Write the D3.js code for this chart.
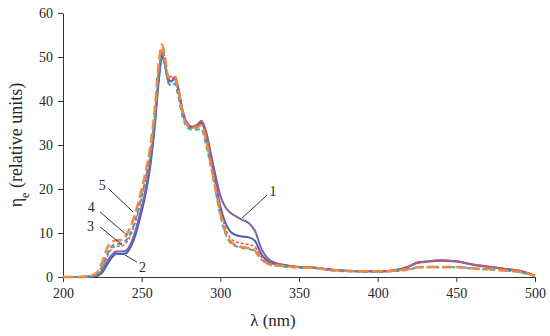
<!DOCTYPE html>
<html>
<head>
<meta charset="utf-8">
<script src="https://cdn.jsdelivr.net/npm/d3@7"></script>
<style>
  body { margin: 0; background: #fff; }
  text { font-family: "Liberation Serif", "DejaVu Serif", serif; fill: #262626; }
</style>
</head>
<body>
<div id="container"></div>
<script>
/* CONSTANTS AND GLOBALS */
const width = 550,
  height = 336,
  margin = { top: 13, bottom: 59, left: 63, right: 15 },
  serif = '"Liberation Serif", "DejaVu Serif", serif';

// wavelengths (nm) shared by all series
const wavelengths = [200, 210, 218, 222, 225, 228, 231, 234, 237, 240, 243, 246, 249, 252, 255, 258, 261, 263, 265, 267, 269, 271, 273, 276, 279, 282, 285, 288, 291, 294, 297, 300, 303, 306, 310, 314, 318, 322, 326, 330, 335, 340, 350, 360, 370, 380, 390, 400, 410, 420, 425, 430, 440, 450, 460, 470, 480, 490, 500];

const series1 = [0, 0, 0.1, 0.5, 1.5, 3.5, 5, 5.8, 5.8, 6, 7.5, 10.5, 14.5, 19, 25, 34, 46, 50.5, 48, 44.5, 44.5, 45.5, 43.5, 38, 35, 34.2, 34.5, 35.5, 33, 28, 23, 18.5, 16, 14.7, 13.8, 13, 12.3, 10.5, 6.5, 4.3, 3.2, 2.8, 2.3, 2.1, 1.7, 1.4, 1.3, 1.3, 1.5, 2.4, 3.3, 3.5, 3.8, 3.6, 2.9, 2.4, 1.9, 1.4, 0.3];
const series2 = [0, 0, 0.1, 0.3, 1.0, 2.8, 4.4, 5.3, 5.2, 5.4, 6.8, 9.5, 13.5, 18, 24, 33, 45, 50, 48, 44.5, 44.5, 45, 43, 37.5, 34.5, 34, 34.3, 35, 32, 27, 21.5, 16, 12.5, 10.5, 9.5, 9.2, 9.0, 8.2, 5.2, 3.7, 3.0, 2.7, 2.3, 2.1, 1.7, 1.4, 1.3, 1.3, 1.5, 2.4, 3.2, 3.4, 3.7, 3.5, 2.8, 2.3, 1.9, 1.4, 0.3];
const series3 = [0, 0, 0.2, 0.8, 2.5, 5, 7, 7.5, 7.6, 8.3, 10, 13, 17, 21.5, 27, 35, 47, 51, 48, 44, 43.5, 44, 41.5, 36.5, 34, 33.5, 33.5, 33.5, 30, 25, 19.5, 14, 10, 8, 7, 6.6, 6.4, 5.8, 4, 3, 2.6, 2.4, 2.1, 2.0, 1.5, 1.3, 1.2, 1.2, 1.3, 1.7, 2.1, 2.2, 2.2, 2.2, 1.9, 1.7, 1.5, 1.1, 0.2];
const series4 = [0, 0, 0.2, 0.7, 2.2, 4.6, 6.5, 7.0, 7.0, 7.7, 9.5, 12.5, 16.5, 21, 27, 35.5, 47.5, 52, 49, 45, 44.8, 45.3, 43, 37.5, 34.5, 34, 34.2, 35, 32, 26.5, 21, 15.5, 11.5, 9, 8, 7.6, 7.4, 6.8, 4.6, 3.4, 2.8, 2.6, 2.3, 2.1, 1.7, 1.4, 1.3, 1.3, 1.5, 2.4, 3.3, 3.5, 3.8, 3.6, 2.9, 2.4, 1.9, 1.4, 0.3];
const series5 = [0, 0, 0.3, 1.2, 3.5, 6.5, 8, 8.3, 8.4, 9.3, 11.5, 14.5, 18.5, 23, 28.5, 37, 49, 52.8, 49.5, 45.5, 45.5, 45.8, 43, 37.5, 34.5, 34, 34, 34.5, 31, 25.5, 20, 14.5, 10.5, 8.3, 7.2, 6.8, 6.6, 6, 4.2, 3.1, 2.7, 2.5, 2.2, 2.1, 1.6, 1.4, 1.3, 1.3, 1.4, 1.8, 2.2, 2.3, 2.3, 2.3, 2.0, 1.8, 1.5, 1.2, 0.3];

const xTicks = [200, 250, 300, 350, 400, 450, 500];
const yTicks = [0, 10, 20, 30, 40, 50, 60];

// curve labels: name, anchor on the curve, other end of the leader line, text position (nm, value)
const labelNames = ["1", "2", "3", "4", "5"];
const labelAnchor = [[313.8, 13.4], [239.4, 5.0], [237.5, 7.3], [240.7, 9.5], [244.5, 14.8]];
const labelLineEnd = [[329.7, 18.6], [247, 3.4], [223.5, 11.4], [223.5, 14.8], [228.6, 20.2]];
const labelText = [[333.5, 19.5], [250.5, 2.2], [217.5, 11.6], [218, 16], [225, 21]];

/* SCALES */
const xScale = d3.scaleLinear()
  .domain([200, 500])
  .range([margin.left, width - margin.right]);

const yScale = d3.scaleLinear()
  .domain([0, 60])
  .range([height - margin.bottom, margin.top]);

const svg = d3.select("#container")
  .append("svg")
  .attr("width", width)
  .attr("height", height);

/* AXES */
const xAxis = d3.axisBottom(xScale)
  .tickValues(xTicks)
  .tickSize(5)
  .tickSizeOuter(0);

const yAxis = d3.axisLeft(yScale)
  .tickValues(yTicks)
  .tickSize(5)
  .tickSizeOuter(0);

const xAxisGroup = svg.append("g")
  .attr("transform", `translate(0, ${height - margin.bottom})`)
  .call(xAxis);

const yAxisGroup = svg.append("g")
  .attr("transform", `translate(${margin.left}, 0)`)
  .call(yAxis);

[xAxisGroup, yAxisGroup].forEach(g => {
  g.attr("font-family", serif).attr("font-size", 14);
  g.select(".domain").attr("stroke", "#333");
  g.selectAll(".tick line").attr("stroke", "#333");
  g.selectAll(".tick text").attr("fill", "#262626");
});
xAxisGroup.selectAll(".tick text").attr("dy", "0.95em");
yAxisGroup.selectAll(".tick text").attr("x", -10);

svg.append("text")
  .attr("x", 273)
  .attr("y", 326)
  .attr("text-anchor", "middle")
  .style("font-size", "17px")
  .text("λ (nm)");

const yLabel = svg.append("text")
  .attr("transform", `translate(22, 145) rotate(-90)`)
  .attr("text-anchor", "middle")
  .style("font-size", "18px");
yLabel.append("tspan").text("η");
yLabel.append("tspan").attr("baseline-shift", "sub").style("font-size", "12px").text("e");
yLabel.append("tspan").text(" (relative units)");

/* LINES */
const lineGen = d3.line()
  .x((d, i) => xScale(wavelengths[i]))
  .y(d => yScale(d))
  .curve(d3.curveMonotoneX);

const lines = [
  { values: series2, color: "#4a5cbf", width: 2, dash: null },
  { values: series1, color: "#8064a2", width: 2, dash: null },
  { values: series4, color: "#e0555a", width: 1.5, dash: "3,2" },
  { values: series3, color: "#2ea8c6", width: 2, dash: "5,3" },
  { values: series5, color: "#f7883a", width: 2.5, dash: "10,4" }
];

lines.forEach(s => {
  svg.append("path")
    .datum(s.values)
    .attr("d", lineGen)
    .attr("fill", "none")
    .attr("stroke", s.color)
    .attr("stroke-width", s.width)
    .attr("stroke-dasharray", s.dash);
});

/* CURVE LABELS */
labelNames.forEach((name, i) => {
  svg.append("line")
    .attr("x1", xScale(labelAnchor[i][0]))
    .attr("y1", yScale(labelAnchor[i][1]))
    .attr("x2", xScale(labelLineEnd[i][0]))
    .attr("y2", yScale(labelLineEnd[i][1]))
    .attr("stroke", "#333")
    .attr("stroke-width", 1);

  svg.append("text")
    .attr("x", xScale(labelText[i][0]))
    .attr("y", yScale(labelText[i][1]))
    .attr("text-anchor", "middle")
    .attr("dy", "0.35em")
    .style("font-size", "14px")
    .text(name);
});
</script>
</body>
</html>
